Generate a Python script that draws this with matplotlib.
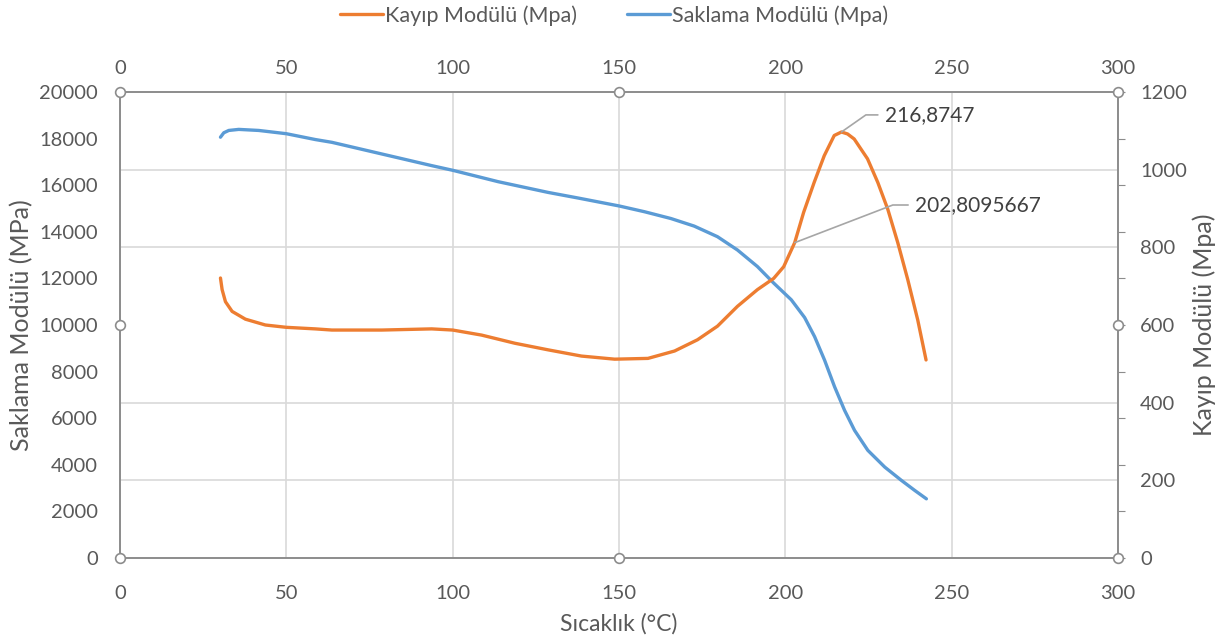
import numpy as np
import matplotlib
matplotlib.use("Agg")
import matplotlib.pyplot as plt

plt.rcParams['font.family'] = ['Lato', 'DejaVu Sans']

# ---- data ----
storage_temp = [30.2, 31.2, 32.7, 35.7, 41.7, 50, 58.7, 63.7, 78.7, 93.7, 100, 113.7,
                128.7, 137.7, 150, 157.7, 165.6, 172.6, 179.6, 185.6, 191.6, 196.5,
                201.8, 205.8, 208.8, 211.8, 214.8, 217.8, 220.8, 224.8, 229.9, 234.9,
                238.9, 242.4]
storage_mod = [18060, 18250, 18350, 18395, 18350, 18210, 17960, 17840, 17340, 16840,
               16640, 16150, 15690, 15450, 15110, 14860, 14570, 14245, 13790, 13220,
               12510, 11800, 11080, 10320, 9500, 8490, 7350, 6340, 5480, 4620, 3900,
               3330, 2900, 2540]

loss_temp = [30.2, 30.7, 31.7, 33.7, 37.7, 43.7, 50, 58.7, 63.7, 78.7, 93.7, 100,
             108.7, 118.7, 128.7, 138.7, 148.7, 158.7, 166.7, 173.6, 179.6, 185.6,
             191.6, 196.5, 199.5, 202.8095667, 205.5, 208.7, 211.7, 213.2, 214.7,
             216.8747, 218.7, 220.7, 224.7, 227.8, 230.8, 233.8, 236.8, 239.8, 242.3]
loss_mod = [721, 691, 660, 635, 615, 600, 594, 590, 587, 587, 590, 587, 574, 553, 536,
            520, 512, 514, 533, 562, 597, 648, 691, 720, 750, 812, 890, 968, 1036,
            1062, 1088, 1097, 1092, 1079, 1028, 967, 898, 812, 717, 613, 510]

annot_x = [216.8747, 202.8095667]
annot_y = [1097, 812]
annot_text_pos = [(229.9, 1141), (239.0, 909)]
annot_angle = [35, 21]

x_ticks = [0, 50, 100, 150, 200, 250, 300]
left_ticks = list(range(0, 20001, 2000))
right_ticks = [0, 200, 400, 600, 800, 1000, 1200]

series_names = ["Kayıp Modülü (Mpa)", "Saklama Modülü (Mpa)"]
x_label = "Sıcaklık (°C)"
left_label = "Saklama Modülü (MPa)"
right_label = "Kayıp Modülü (Mpa)"

# ---- styling ----
ORANGE = "#ED7D31"
BLUE = "#5B9BD5"
TXT = "#595959"
SPINE = "#8c8c8c"
GRID = "#d9d9d9"
FS = 14.5

fig = plt.figure(figsize=(12.28, 6.43), dpi=100)
ax = fig.add_axes([120/1228, 1-558/643, (1118-120)/1228, (558-92)/643])
ax2 = ax.twinx()

ax.set_xlim(0, 300)
ax.set_ylim(0, 20000)
ax2.set_ylim(0, 1200)

l_blue, = ax.plot(storage_temp, storage_mod, color=BLUE, lw=2.4,
                  solid_capstyle='round', solid_joinstyle='round', zorder=3)
l_orange, = ax2.plot(loss_temp, loss_mod, color=ORANGE, lw=2.4,
                     solid_capstyle='round', solid_joinstyle='round', zorder=3)

# grid
ax.set_xticks(x_ticks)
ax.grid(axis='x', color=GRID, lw=1.2)
ax.set_yticks(left_ticks)
ax.set_yticks(np.array(right_ticks) * (20000 / 1200), minor=True)
ax.grid(axis='y', which='minor', color=GRID, lw=1.2)
ax.grid(axis='y', which='major', visible=False)
ax.set_axisbelow(True)

ax.tick_params(axis='y', which='minor', length=0, left=False, right=False)
ax.tick_params(axis='y', which='major', left=False, right=True, length=5,
               color=SPINE, direction='out', labelleft=True, labelright=False,
               labelsize=FS, labelcolor=TXT, pad=11)
ax.tick_params(axis='x', bottom=False, top=False, labelbottom=True, labeltop=False,
               labelsize=FS, labelcolor=TXT, pad=16)

# top x axis (same scale)
sec = ax.secondary_xaxis('top')
sec.set_xticks(x_ticks)
sec.tick_params(axis='x', length=0, labelsize=FS, labelcolor=TXT, pad=11)
sec.spines['top'].set_visible(False)

ax2.set_yticks(right_ticks)
ax2.tick_params(axis='y', length=0, labelsize=FS, labelcolor=TXT, pad=16)

for s in ax.spines.values():
    s.set_color(SPINE)
    s.set_linewidth(1.4)
for s in ax2.spines.values():
    s.set_visible(False)

ax.set_xlabel(x_label, fontsize=16.5, color=TXT, labelpad=8)
ax.set_ylabel(left_label, fontsize=18, color=TXT, labelpad=4)
ax2.set_ylabel(right_label, fontsize=18, color=TXT, labelpad=4)

# selection handle circles on the plot area frame
ax.plot([0, 0.5, 1, 0, 1, 0, 0.5, 1], [0, 0, 0, 0.5, 0.5, 1, 1, 1], 'o',
        transform=ax.transAxes, clip_on=False, mfc='white', mec=SPINE,
        ms=7, mew=1.2, zorder=10)

# data labels
for xv, yv, tp, ang in zip(annot_x, annot_y, annot_text_pos, annot_angle):
    ax2.annotate(str(xv).replace('.', ','), xy=(xv, yv), xytext=tp,
                 textcoords='data', ha='left', va='center', fontsize=15,
                 color="#404040",
                 arrowprops=dict(arrowstyle='-', color="#a6a6a6", lw=1.2,
                                 relpos=(0, 0.5), shrinkA=3, shrinkB=0,
                                 connectionstyle=f"angle,angleA=0,angleB={ang},rad=0"))

fig.legend([l_orange, l_blue], series_names, loc='upper center',
           bbox_to_anchor=(0.5, 1.022), ncol=2, frameon=False, fontsize=15.5,
           labelcolor=TXT, handlelength=2.0, handletextpad=0.1, columnspacing=2.3)

fig.savefig("out.png", dpi=100)
